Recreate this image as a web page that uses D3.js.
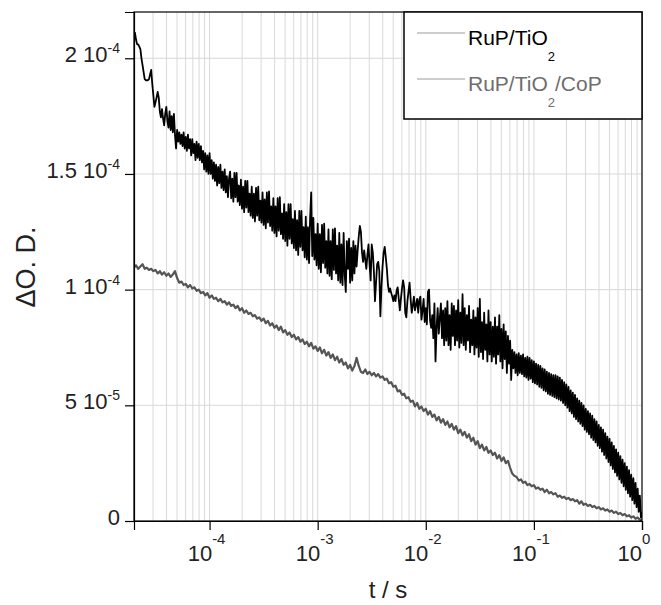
<!DOCTYPE html>
<html>
<head>
<meta charset="utf-8">
<script src="https://cdn.jsdelivr.net/npm/d3@7"></script>
<style>
  body { margin: 0; background: #fff; }
  svg { display: block; font-family: "Liberation Sans", Arial, sans-serif; }
</style>
</head>
<body>
<svg id="chart" width="661" height="605"></svg>
<script>
// y ticks (ΔO.D.) and their labels as mantissa + power of ten
var yTicks = [0, 5e-5, 1e-4, 1.5e-4, 2e-4];
var yTickMantissa = ['0', '5 10', '1 10', '1.5 10', '2 10'];
var yTickPower = ['', '-5', '-4', '-4', '-4'];

// x ticks (t / s), decades
var xTicks = [1e-4, 1e-3, 1e-2, 1e-1, 1];
var xTickPower = ['-4', '-3', '-2', '-1', '0'];

var seriesNames = ['RuP/TiO2', 'RuP/TiO2/CoP'];

// points are [log10(t / s), ΔO.D. x 1e5]
var rupTio2 = [
  [-4.70,21.0],[-4.69,21.1],[-4.68,20.8],[-4.67,20.6],[-4.66,20.6],[-4.65,20.5],[-4.64,20.4],[-4.63,20.0],[-4.62,19.7],[-4.61,19.4],
  [-4.60,19.1],[-4.59,19.05],[-4.58,19.05],[-4.57,19.05],[-4.56,19.1],[-4.55,19.3],[-4.54,19.5],[-4.53,18.9],[-4.52,18.4],[-4.51,17.9],
  [-4.50,18.1],[-4.49,18.3],[-4.48,18.55],[-4.47,18.3],[-4.46,17.7],[-4.45,17.45],[-4.44,17.8],[-4.43,17.4],[-4.42,17.1],[-4.41,17.6],
  [-4.40,17.9],[-4.39,17.3],[-4.38,17.0],[-4.37,17.7],[-4.36,16.9],[-4.35,17.5],[-4.34,16.8],[-4.33,17.6],[-4.32,16.7],[-4.31,16.1],
  [-4.30,16.9],[-4.29,16.4],[-4.28,16.8],[-4.27,16.3],[-4.26,16.7],[-4.25,16.2],[-4.24,16.8],[-4.23,16.1],[-4.22,16.6],[-4.21,16.0],
  [-4.20,16.7],[-4.19,16.1],[-4.18,16.5],[-4.17,15.8],[-4.16,16.5],[-4.15,15.9],[-4.14,16.3],[-4.13,15.6],[-4.12,16.4],[-4.11,15.7],
  [-4.10,16.3],[-4.09,15.6],[-4.08,16.2],[-4.07,15.5],[-4.06,16.0],[-4.05,15.2],[-4.04,15.9],[-4.03,15.1],[-4.02,15.8],[-4.01,15.0],
  [-4.00,15.9],[-3.99,15.0],[-3.98,15.6],[-3.97,14.8],[-3.96,15.5],[-3.95,14.7],[-3.94,15.4],[-3.93,14.5],[-3.92,15.3],[-3.91,14.6],
  [-3.90,15.4],[-3.89,14.4],[-3.88,15.1],[-3.87,14.3],[-3.86,15.2],[-3.85,14.2],[-3.84,14.9],[-3.83,14.0],[-3.82,14.8],[-3.81,15.1],
  [-3.80,13.95],[-3.79,14.8],[-3.78,13.8],[-3.77,15.05],[-3.76,14.0],[-3.75,15.05],[-3.74,13.8],[-3.73,14.5],[-3.72,13.65],[-3.71,14.75],
  [-3.70,13.5],[-3.69,14.45],[-3.68,13.35],[-3.67,14.7],[-3.66,13.55],[-3.65,14.7],[-3.64,13.35],[-3.63,14.15],[-3.62,13.2],[-3.61,14.45],
  [-3.60,13.1],[-3.59,14.15],[-3.58,12.95],[-3.57,14.4],[-3.56,13.2],[-3.55,14.45],[-3.54,13.0],[-3.53,13.85],[-3.52,12.9],[-3.51,14.2],
  [-3.50,12.8],[-3.49,13.9],[-3.48,12.65],[-3.47,14.2],[-3.46,12.9],[-3.45,14.25],[-3.44,12.75],[-3.43,13.6],[-3.42,12.55],[-3.41,13.95],
  [-3.40,12.45],[-3.39,13.6],[-3.38,12.3],[-3.37,13.95],[-3.36,12.55],[-3.35,14.0],[-3.34,12.4],[-3.33,13.3],[-3.32,12.2],[-3.31,13.7],
  [-3.30,12.1],[-3.29,13.35],[-3.28,11.9],[-3.27,13.7],[-3.26,12.2],[-3.25,13.7],[-3.24,12.0],[-3.23,13.05],[-3.22,11.8],[-3.21,13.4],
  [-3.20,11.7],[-3.19,13.0],[-3.18,11.5],[-3.17,13.4],[-3.16,11.85],[-3.15,13.4],[-3.14,11.7],[-3.13,12.7],[-3.12,11.4],[-3.11,13.15],
  [-3.10,11.3],[-3.09,12.7],[-3.08,11.15],[-3.07,13.1],[-3.06,14.2],[-3.05,11.45],[-3.04,13.1],[-3.03,11.3],[-3.02,12.4],[-3.01,11.05],
  [-3.00,12.85],[-2.99,10.9],[-2.98,12.4],[-2.97,10.75],[-2.96,12.8],[-2.95,11.15],[-2.94,12.85],[-2.93,10.95],[-2.92,12.1],[-2.91,10.7],
  [-2.90,12.6],[-2.89,10.6],[-2.88,12.1],[-2.87,10.45],[-2.86,12.6],[-2.85,10.85],[-2.84,12.65],[-2.83,10.7],[-2.82,11.9],[-2.81,10.4],
  [-2.80,12.45],[-2.79,10.3],[-2.78,11.95],[-2.77,10.2],[-2.76,12.45],[-2.75,10.65],[-2.74,9.9],[-2.73,12.1],[-2.72,10.9],[-2.71,12.2],
  [-2.70,10.3],[-2.69,11.8],[-2.68,10.4],[-2.67,12.1],[-2.66,10.7],[-2.65,11.9],[-2.64,11.0],[-2.63,11.7],[-2.62,12.3],[-2.61,12.75],
  [-2.60,12.5],[-2.59,11.6],[-2.58,11.2],[-2.57,11.7],[-2.56,11.3],[-2.55,10.9],[-2.54,11.5],[-2.53,11.95],[-2.52,11.1],[-2.51,10.4],
  [-2.50,11.95],[-2.49,11.6],[-2.48,10.8],[-2.47,9.5],[-2.46,10.3],[-2.45,11.1],[-2.44,11.2],[-2.43,10.8],[-2.42,8.85],[-2.41,10.1],
  [-2.40,11.0],[-2.39,11.6],[-2.38,11.85],[-2.37,11.4],[-2.36,10.9],[-2.35,10.2],[-2.34,9.9],[-2.33,10.05],[-2.32,9.85],[-2.31,9.7],
  [-2.30,9.5],[-2.29,9.75],[-2.28,9.5],[-2.27,9.95],[-2.26,10.1],[-2.25,9.6],[-2.24,9.1],[-2.23,9.6],[-2.22,10.05],[-2.21,10.4],
  [-2.20,10.1],[-2.19,9.0],[-2.18,8.8],[-2.17,9.5],[-2.16,9.9],[-2.15,10.3],[-2.14,9.6],[-2.13,9.0],[-2.12,9.3],[-2.11,9.7],
  [-2.10,9.1],[-2.09,9.35],[-2.08,9.6],[-2.07,9.0],[-2.06,9.55],[-2.05,9.7],[-2.04,8.7],[-2.03,9.1],[-2.02,9.6],[-2.01,8.6],
  [-2.00,9.2],[-1.99,8.5],[-1.98,9.9],[-1.97,10.0],[-1.96,8.65],[-1.95,8.35],[-1.94,8.9],[-1.93,7.9],[-1.92,9.4],[-1.91,6.9],
  [-1.90,8.35],[-1.89,9.2],[-1.88,8.1],[-1.87,8.8],[-1.86,9.4],[-1.85,7.9],[-1.84,9.1],[-1.83,7.6],[-1.82,9.2],[-1.81,7.8],
  [-1.80,9.5],[-1.79,7.6],[-1.78,8.9],[-1.77,7.4],[-1.76,9.4],[-1.75,8.0],[-1.74,9.3],[-1.73,7.6],[-1.72,9.1],[-1.71,7.8],
  [-1.70,9.55],[-1.69,7.5],[-1.68,9.0],[-1.67,7.7],[-1.66,9.8],[-1.65,7.6],[-1.64,9.2],[-1.63,7.4],[-1.62,8.9],[-1.61,7.8],
  [-1.60,9.3],[-1.59,7.3],[-1.58,8.7],[-1.57,7.6],[-1.56,9.1],[-1.55,7.2],[-1.54,8.8],[-1.53,7.5],[-1.52,9.2],[-1.51,7.1],
  [-1.50,9.6],[-1.49,7.3],[-1.48,8.6],[-1.47,7.0],[-1.46,9.0],[-1.45,7.4],[-1.44,8.5],[-1.43,6.9],[-1.42,9.1],[-1.41,7.2],
  [-1.40,8.6],[-1.39,6.9],[-1.38,8.4],[-1.37,7.1],[-1.36,8.8],[-1.35,6.8],[-1.34,8.4],[-1.33,7.2],[-1.32,8.9],[-1.31,6.9],
  [-1.30,8.3],[-1.29,6.6],[-1.28,8.5],[-1.27,7.0],[-1.26,8.2],[-1.25,6.4],[-1.24,8.0],[-1.23,6.8],[-1.22,7.8],[-1.21,6.1],
  [-1.20,7.4],[-1.19,6.6],[-1.18,7.3],[-1.17,6.4],[-1.16,7.2],[-1.15,6.3],[-1.14,7.25],[-1.13,6.4],[-1.12,7.15],[-1.11,6.35],
  [-1.10,7.2],[-1.09,6.25],[-1.08,7.05],[-1.07,6.2],[-1.06,7.1],[-1.05,6.1],[-1.04,7.05],[-1.03,6.15],[-1.02,6.95],[-1.01,6.0],
  [-1.00,6.9],[-0.99,5.95],[-0.98,6.8],[-0.97,5.9],[-0.96,6.75],[-0.95,5.8],[-0.94,6.7],[-0.93,5.75],[-0.92,6.6],[-0.91,5.65],
  [-0.90,6.55],[-0.89,5.6],[-0.88,6.45],[-0.87,5.5],[-0.86,6.4],[-0.85,5.45],[-0.84,6.35],[-0.83,5.4],[-0.82,6.3],[-0.81,5.35],
  [-0.80,6.3],[-0.79,5.3],[-0.78,6.25],[-0.77,5.25],[-0.76,6.2],[-0.75,5.2],[-0.74,6.1],[-0.73,5.1],[-0.72,6.0],[-0.71,5.0],
  [-0.70,5.9],[-0.69,4.9],[-0.68,5.8],[-0.67,4.75],[-0.66,5.65],[-0.65,4.65],[-0.64,5.55],[-0.63,4.5],[-0.62,5.45],[-0.61,4.4],
  [-0.60,5.3],[-0.59,4.3],[-0.58,5.2],[-0.57,4.2],[-0.56,5.1],[-0.55,4.1],[-0.54,5.0],[-0.53,3.95],[-0.52,4.85],[-0.51,3.85],
  [-0.50,4.75],[-0.49,3.75],[-0.48,4.65],[-0.47,3.6],[-0.46,4.55],[-0.45,3.5],[-0.44,4.4],[-0.43,3.4],[-0.42,4.3],[-0.41,3.25],
  [-0.40,4.15],[-0.39,3.15],[-0.38,4.05],[-0.37,3.0],[-0.36,3.95],[-0.35,2.85],[-0.34,3.8],[-0.33,2.7],[-0.32,3.65],[-0.31,2.55],
  [-0.30,3.55],[-0.29,2.4],[-0.28,3.4],[-0.27,2.25],[-0.26,3.25],[-0.25,2.1],[-0.24,3.1],[-0.23,1.95],[-0.22,2.95],[-0.21,1.8],
  [-0.20,2.8],[-0.19,1.65],[-0.18,2.65],[-0.17,1.5],[-0.16,2.5],[-0.15,1.35],[-0.14,2.35],[-0.13,1.2],[-0.12,2.2],[-0.11,1.05],
  [-0.10,2.0],[-0.09,0.9],[-0.08,1.85],[-0.07,0.75],[-0.06,1.65],[-0.05,0.6],[-0.04,1.4],[-0.03,0.4],[-0.02,1.1],[-0.01,0.15],
  [0.00,0.4]
];

var rupTio2Cop = [
  [-4.70,10.95],[-4.68,11.05],[-4.66,10.9],[-4.64,11.0],[-4.62,11.1],[-4.60,10.9],[-4.58,10.95],[-4.56,10.85],[-4.54,10.9],[-4.52,10.8],
  [-4.50,10.85],[-4.48,10.7],[-4.46,10.8],[-4.44,10.65],[-4.42,10.75],[-4.40,10.6],[-4.38,10.7],[-4.36,10.55],[-4.34,10.65],[-4.32,10.8],
  [-4.30,10.5],[-4.28,10.3],[-4.26,10.35],[-4.24,10.2],[-4.22,10.25],[-4.20,10.1],[-4.18,10.2],[-4.16,10.05],[-4.14,10.1],[-4.12,9.95],
  [-4.10,10.0],[-4.08,9.85],[-4.06,9.9],[-4.04,9.75],[-4.02,9.85],[-4.00,9.65],[-3.98,9.75],[-3.96,9.6],[-3.94,9.65],[-3.92,9.5],
  [-3.90,9.6],[-3.88,9.45],[-3.86,9.5],[-3.84,9.35],[-3.82,9.45],[-3.80,9.3],[-3.78,9.35],[-3.76,9.2],[-3.74,9.3],[-3.72,9.1],
  [-3.70,9.2],[-3.68,9.0],[-3.66,9.1],[-3.64,8.95],[-3.62,9.0],[-3.60,8.85],[-3.58,8.9],[-3.56,8.75],[-3.54,8.8],[-3.52,8.65],
  [-3.50,8.75],[-3.48,8.55],[-3.46,8.65],[-3.44,8.45],[-3.42,8.55],[-3.40,8.35],[-3.38,8.45],[-3.36,8.25],[-3.34,8.4],[-3.32,8.15],
  [-3.30,8.25],[-3.28,8.05],[-3.26,8.15],[-3.24,7.95],[-3.22,8.05],[-3.20,7.85],[-3.18,7.95],[-3.16,7.75],[-3.14,7.85],[-3.12,7.65],
  [-3.10,7.75],[-3.08,7.55],[-3.06,7.7],[-3.04,7.45],[-3.02,7.55],[-3.00,7.35],[-2.98,7.5],[-2.96,7.25],[-2.94,7.4],[-2.92,7.15],
  [-2.90,7.3],[-2.88,7.05],[-2.86,7.2],[-2.84,6.95],[-2.82,7.1],[-2.80,6.85],[-2.78,7.0],[-2.76,6.75],[-2.74,6.85],[-2.72,6.6],
  [-2.70,6.75],[-2.68,6.5],[-2.66,6.7],[-2.64,7.05],[-2.62,6.7],[-2.60,6.45],[-2.58,6.4],[-2.56,6.55],[-2.54,6.35],[-2.52,6.45],
  [-2.50,6.3],[-2.48,6.4],[-2.46,6.25],[-2.44,6.35],[-2.42,6.2],[-2.40,6.25],[-2.38,6.1],[-2.36,6.15],[-2.34,5.95],[-2.32,6.0],
  [-2.30,5.8],[-2.28,5.85],[-2.26,5.6],[-2.24,5.65],[-2.22,5.45],[-2.20,5.5],[-2.18,5.3],[-2.16,5.35],[-2.14,5.15],[-2.12,5.2],
  [-2.10,4.95],[-2.08,5.1],[-2.06,4.85],[-2.04,4.95],[-2.02,4.75],[-2.00,4.85],[-1.98,4.6],[-1.96,4.75],[-1.94,4.5],[-1.92,4.6],
  [-1.90,4.35],[-1.88,4.5],[-1.86,4.25],[-1.84,4.4],[-1.82,4.15],[-1.80,4.3],[-1.78,4.05],[-1.76,4.2],[-1.74,3.95],[-1.72,4.1],
  [-1.70,3.8],[-1.68,3.95],[-1.66,3.7],[-1.64,3.85],[-1.62,3.6],[-1.60,3.75],[-1.58,3.45],[-1.56,3.6],[-1.54,3.3],[-1.52,3.45],
  [-1.50,3.15],[-1.48,3.3],[-1.46,3.05],[-1.44,3.2],[-1.42,2.95],[-1.40,3.05],[-1.38,2.85],[-1.36,2.95],[-1.34,2.7],[-1.32,2.85],
  [-1.30,2.6],[-1.28,2.75],[-1.26,2.5],[-1.24,2.6],[-1.22,2.3],[-1.20,2.05],[-1.18,1.95],[-1.16,1.9],[-1.14,1.75],[-1.12,1.8],
  [-1.10,1.65],[-1.08,1.7],[-1.06,1.55],[-1.04,1.6],[-1.02,1.5],[-1.00,1.55],[-0.98,1.4],[-0.96,1.45],[-0.94,1.35],[-0.92,1.4],
  [-0.90,1.25],[-0.88,1.35],[-0.86,1.2],[-0.84,1.25],[-0.82,1.15],[-0.80,1.2],[-0.78,1.05],[-0.76,1.1],[-0.74,1.0],[-0.72,1.05],
  [-0.70,0.95],[-0.68,1.0],[-0.66,0.9],[-0.64,0.95],[-0.62,0.85],[-0.60,0.9],[-0.58,0.75],[-0.56,0.85],[-0.54,0.7],[-0.52,0.75],
  [-0.50,0.65],[-0.48,0.7],[-0.46,0.6],[-0.44,0.65],[-0.42,0.55],[-0.40,0.6],[-0.38,0.5],[-0.36,0.55],[-0.34,0.45],[-0.32,0.5],
  [-0.30,0.4],[-0.28,0.45],[-0.26,0.35],[-0.24,0.4],[-0.22,0.3],[-0.20,0.35],[-0.18,0.25],[-0.16,0.3],[-0.14,0.2],[-0.12,0.25],
  [-0.10,0.15],[-0.08,0.2],[-0.06,0.1],[-0.04,0.15],[-0.02,0.05],[0.00,0.05]
];

var margin = {top: 12, right: 19, bottom: 84, left: 134};
var width = 661 - margin.left - margin.right;
var height = 605 - margin.top - margin.bottom;

var svg = d3.select('#chart');
var g = svg.append('g').attr('transform', 'translate(' + margin.left + ',' + margin.top + ')');

var x = d3.scaleLog().domain([2e-5, 1]).range([0, width]);
var y = d3.scaleLinear().domain([0, 2.2e-4]).range([height, 0]);

//Grid: every minor decade step on x, the labelled values on y.
var xGrid = x.ticks().filter(function (t) { return t > 2e-5 && t < 1; });
g.append('g').selectAll('line').data(xGrid).enter().append('line')
  .attr('x1', function (d) { return x(d); })
  .attr('x2', function (d) { return x(d); })
  .attr('y1', 0).attr('y2', height)
  .attr('stroke', '#d9d9d9').attr('stroke-width', 1);

g.append('g').selectAll('line').data(yTicks.slice(1)).enter().append('line')
  .attr('x1', 0).attr('x2', width)
  .attr('y1', function (d) { return y(d); })
  .attr('y2', function (d) { return y(d); })
  .attr('stroke', '#d9d9d9').attr('stroke-width', 1);

g.append('clipPath').attr('id', 'plot-clip').append('rect')
  .attr('width', width).attr('height', height);

var line = d3.line()
  .x(function (d) { return x(Math.pow(10, d[0])); })
  .y(function (d) { return y(d[1] * 1e-5); });

g.append('path').datum(rupTio2Cop)
  .attr('clip-path', 'url(#plot-clip)')
  .attr('fill', 'none').attr('stroke', '#555').attr('stroke-width', 2.2)
  .attr('stroke-linejoin', 'round')
  .attr('d', line);

g.append('path').datum(rupTio2)
  .attr('clip-path', 'url(#plot-clip)')
  .attr('fill', 'none').attr('stroke', '#000').attr('stroke-width', 1.8)
  .attr('stroke-linejoin', 'round')
  .attr('d', line);

//Axes
var yAxis = d3.axisLeft(y).tickValues(yTicks).tickSize(9).tickFormat('');
g.append('g').call(yAxis)
  .call(function (a) { a.selectAll('line, path').attr('stroke', '#000').attr('stroke-width', 1.2); });

var xAxis = d3.axisBottom(x).tickValues(xTicks).tickSize(9).tickFormat('');
g.append('g').attr('transform', 'translate(0,' + height + ')').call(xAxis)
  .call(function (a) { a.selectAll('line, path').attr('stroke', '#000').attr('stroke-width', 1.2); });

g.append('rect').attr('width', width).attr('height', height)
  .attr('fill', 'none').attr('stroke', '#000').attr('stroke-width', 1.2);

//Tick labels with powers of ten
yTicks.forEach(function (v, i) {
  var t = g.append('text')
    .attr('x', -14).attr('y', y(v) + 4)
    .attr('text-anchor', 'end')
    .attr('font-size', 22).attr('fill', '#222');
  t.append('tspan').text(yTickMantissa[i]);
  if (yTickPower[i]) {
    t.append('tspan').attr('dy', -9).attr('font-size', 14).text(yTickPower[i]);
  }
});

xTicks.forEach(function (v, i) {
  var shift = i === xTicks.length - 1 ? -8 : -3;
  var t = g.append('text')
    .attr('x', x(v) + shift).attr('y', height + 40)
    .attr('text-anchor', 'middle')
    .attr('font-size', 22).attr('fill', '#222');
  t.append('tspan').text('10');
  t.append('tspan').attr('dy', -17).attr('font-size', 15).text(xTickPower[i]);
});

//Axis titles
svg.append('text')
  .attr('x', 388).attr('y', 598)
  .attr('text-anchor', 'middle')
  .attr('font-size', 24).attr('fill', '#222')
  .text('t / s');

svg.append('text')
  .attr('transform', 'translate(35,267) rotate(-90)')
  .attr('text-anchor', 'middle')
  .attr('font-size', 27).attr('fill', '#222')
  .text('ΔO. D.');

//Legend
var legend = svg.append('g').attr('transform', 'translate(404,12)');
legend.append('rect').attr('width', 238).attr('height', 107)
  .attr('fill', '#fff').attr('stroke', '#000').attr('stroke-width', 1.5);

var legendColors = ['#000', '#6e6e6e'];
seriesNames.forEach(function (name, i) {
  var rowY = 21 + i * 46;
  legend.append('line')
    .attr('x1', 13).attr('x2', 61).attr('y1', rowY).attr('y2', rowY)
    .attr('stroke', '#9a9a9a').attr('stroke-width', 1);
  var parts = name.split('2');
  var t = legend.append('text')
    .attr('x', 64).attr('y', rowY + 12)
    .attr('font-size', 21).attr('fill', legendColors[i]);
  t.append('tspan').text(parts[0]);
  t.append('tspan').attr('dy', 16).attr('font-size', 13).text('2');
  if (parts[1]) {
    t.append('tspan').attr('dy', -16).text(parts[1]);
  }
});
</script>
</body>
</html>
